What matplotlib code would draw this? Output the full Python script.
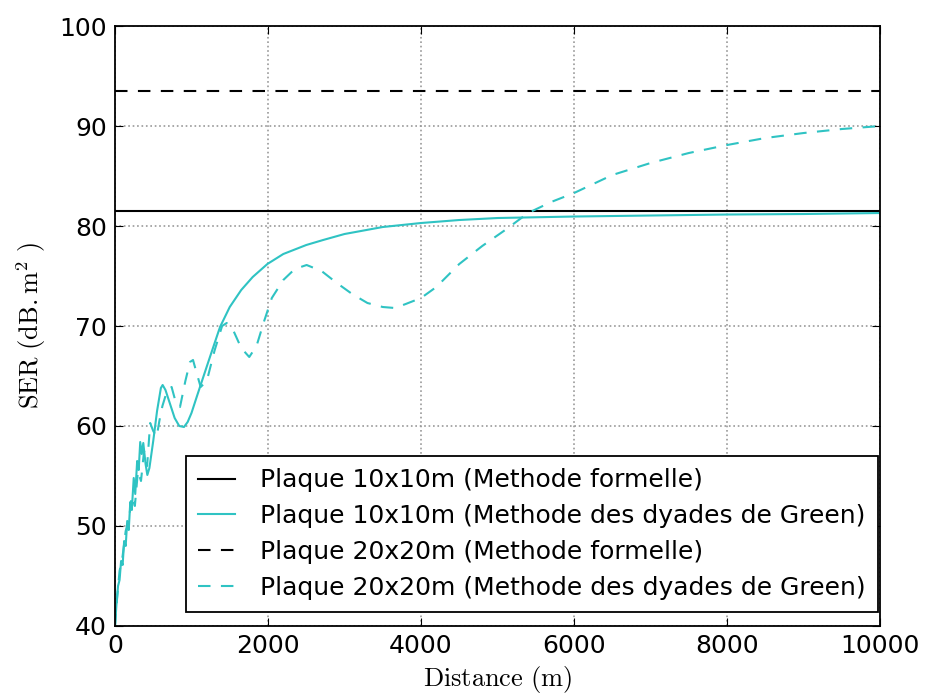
import numpy as np
import matplotlib
matplotlib.use("Agg")
import matplotlib.pyplot as plt

plt.rcParams['mathtext.fontset'] = 'cm'

# Formal-method levels (dB.m^2)
ser_10_formelle = 81.5
ser_20_formelle = 93.5

# Plaque 10x10m, dyades de Green
dist_10 = [0, 20, 40, 60, 80, 100, 120, 140, 160, 180, 200, 220, 245, 265, 290,
           310, 330, 350, 370, 400, 423, 450, 500, 550, 600, 623, 660, 720, 780,
           840, 902, 950, 1000, 1068, 1150, 1250, 1373, 1500, 1650, 1800, 1992,
           2200, 2500, 2720, 3000, 3500, 4000, 4500, 5000, 6000, 7000, 8000,
           9000, 10000]
ser_10 = [40, 42.2, 44, 44.6, 46.5, 46.1, 48.5, 48.0, 50.5, 49.6, 52.4, 51.6,
          54.8, 53.2, 56.5, 55.6, 58.4, 57.2, 58.3, 56.2, 55.1, 55.8, 58.5, 61.5,
          63.8, 64.1, 63.6, 62.2, 60.8, 60.0, 59.9, 60.4, 61.3, 62.9, 64.8, 67.1,
          69.9, 71.9, 73.6, 74.9, 76.2, 77.2, 78.1, 78.6, 79.2, 79.9, 80.3, 80.6,
          80.8, 80.95, 81.05, 81.15, 81.2, 81.3]

# Plaque 20x20m, dyades de Green
dist_20 = [0, 30, 60, 100, 140, 180, 220, 260, 300, 340, 380, 420, 460, 500,
           545, 580, 620, 680, 740, 790, 850, 920, 980, 1020, 1060, 1120, 1200,
           1300, 1400, 1460, 1550, 1650, 1755, 1850, 1950, 2050, 2200, 2350,
           2505, 2700, 2900, 3100, 3300, 3500, 3660, 3800, 4000, 4200, 4500,
           4800, 5100, 5400, 5700, 6000, 6500, 7000, 7500, 8000, 8500, 9000,
           9500, 10000]
ser_20 = [40, 43, 45.5, 47, 49.5, 50.5, 53, 52, 55.5, 54.5, 57.5, 56, 60.3,
          59.5, 58.9, 60.5, 62, 63.5, 63.9, 62.5, 61.9, 64.5, 66.4, 66.6, 65.5,
          63.9, 64.5, 67.5, 70, 70.3, 69.5, 67.8, 66.9, 68, 70.5, 72.8, 74.6,
          75.7, 76.1, 75.5, 74.3, 73.2, 72.3, 71.9, 71.8, 72.2, 72.8, 73.9,
          76.2, 78.0, 79.6, 81.3, 82.4, 83.3, 85.1, 86.3, 87.3, 88.1, 88.8,
          89.3, 89.7, 90.0]

cyan = '#2fc3c3'

fig = plt.figure(figsize=(9.25, 6.96), dpi=100)
ax = fig.add_axes([0.1243, 0.1006, 0.8271, 0.862])

ax.axhline(ser_10_formelle, color='k', lw=1.5,
           label='Plaque 10x10m (Methode formelle)')
ax.plot(dist_10, ser_10, color=cyan, lw=1.5,
        label='Plaque 10x10m (Methode des dyades de Green)')
ax.axhline(ser_20_formelle, color='k', lw=1.5, dashes=(6, 5),
           label='Plaque 20x20m (Methode formelle)')
ax.plot(dist_20, ser_20, color=cyan, lw=1.5, dashes=(6, 5),
        label='Plaque 20x20m (Methode des dyades de Green)')

ax.set_xlim(0, 10000)
ax.set_ylim(40, 100)
ax.set_xticks([0, 2000, 4000, 6000, 8000, 10000])
ax.set_yticks([40, 50, 60, 70, 80, 90, 100])
ax.grid(True, color='#999999', linestyle=':', linewidth=1.2)
ax.tick_params(direction='in', top=True, right=True, labelsize=18, length=6, pad=6)
for s in ax.spines.values():
    s.set_linewidth(1.3)

ax.set_xlabel(r'$\mathrm{Distance\ (m)}$', fontsize=19, labelpad=4)
ax.set_ylabel(r'$\mathrm{SER\ (dB.m^2\ )}$', fontsize=19, labelpad=8)

leg = ax.legend(loc='lower right', bbox_to_anchor=(0.997, 0.023),
                borderaxespad=0, fontsize=18, fancybox=False, handlelength=1.45,
                handletextpad=1.0, labelspacing=0.47, borderpad=0.5)
leg.get_frame().set_edgecolor('k')
leg.get_frame().set_linewidth(1.3)
leg.get_frame().set_alpha(1)

fig.savefig('out.png', dpi=100)
